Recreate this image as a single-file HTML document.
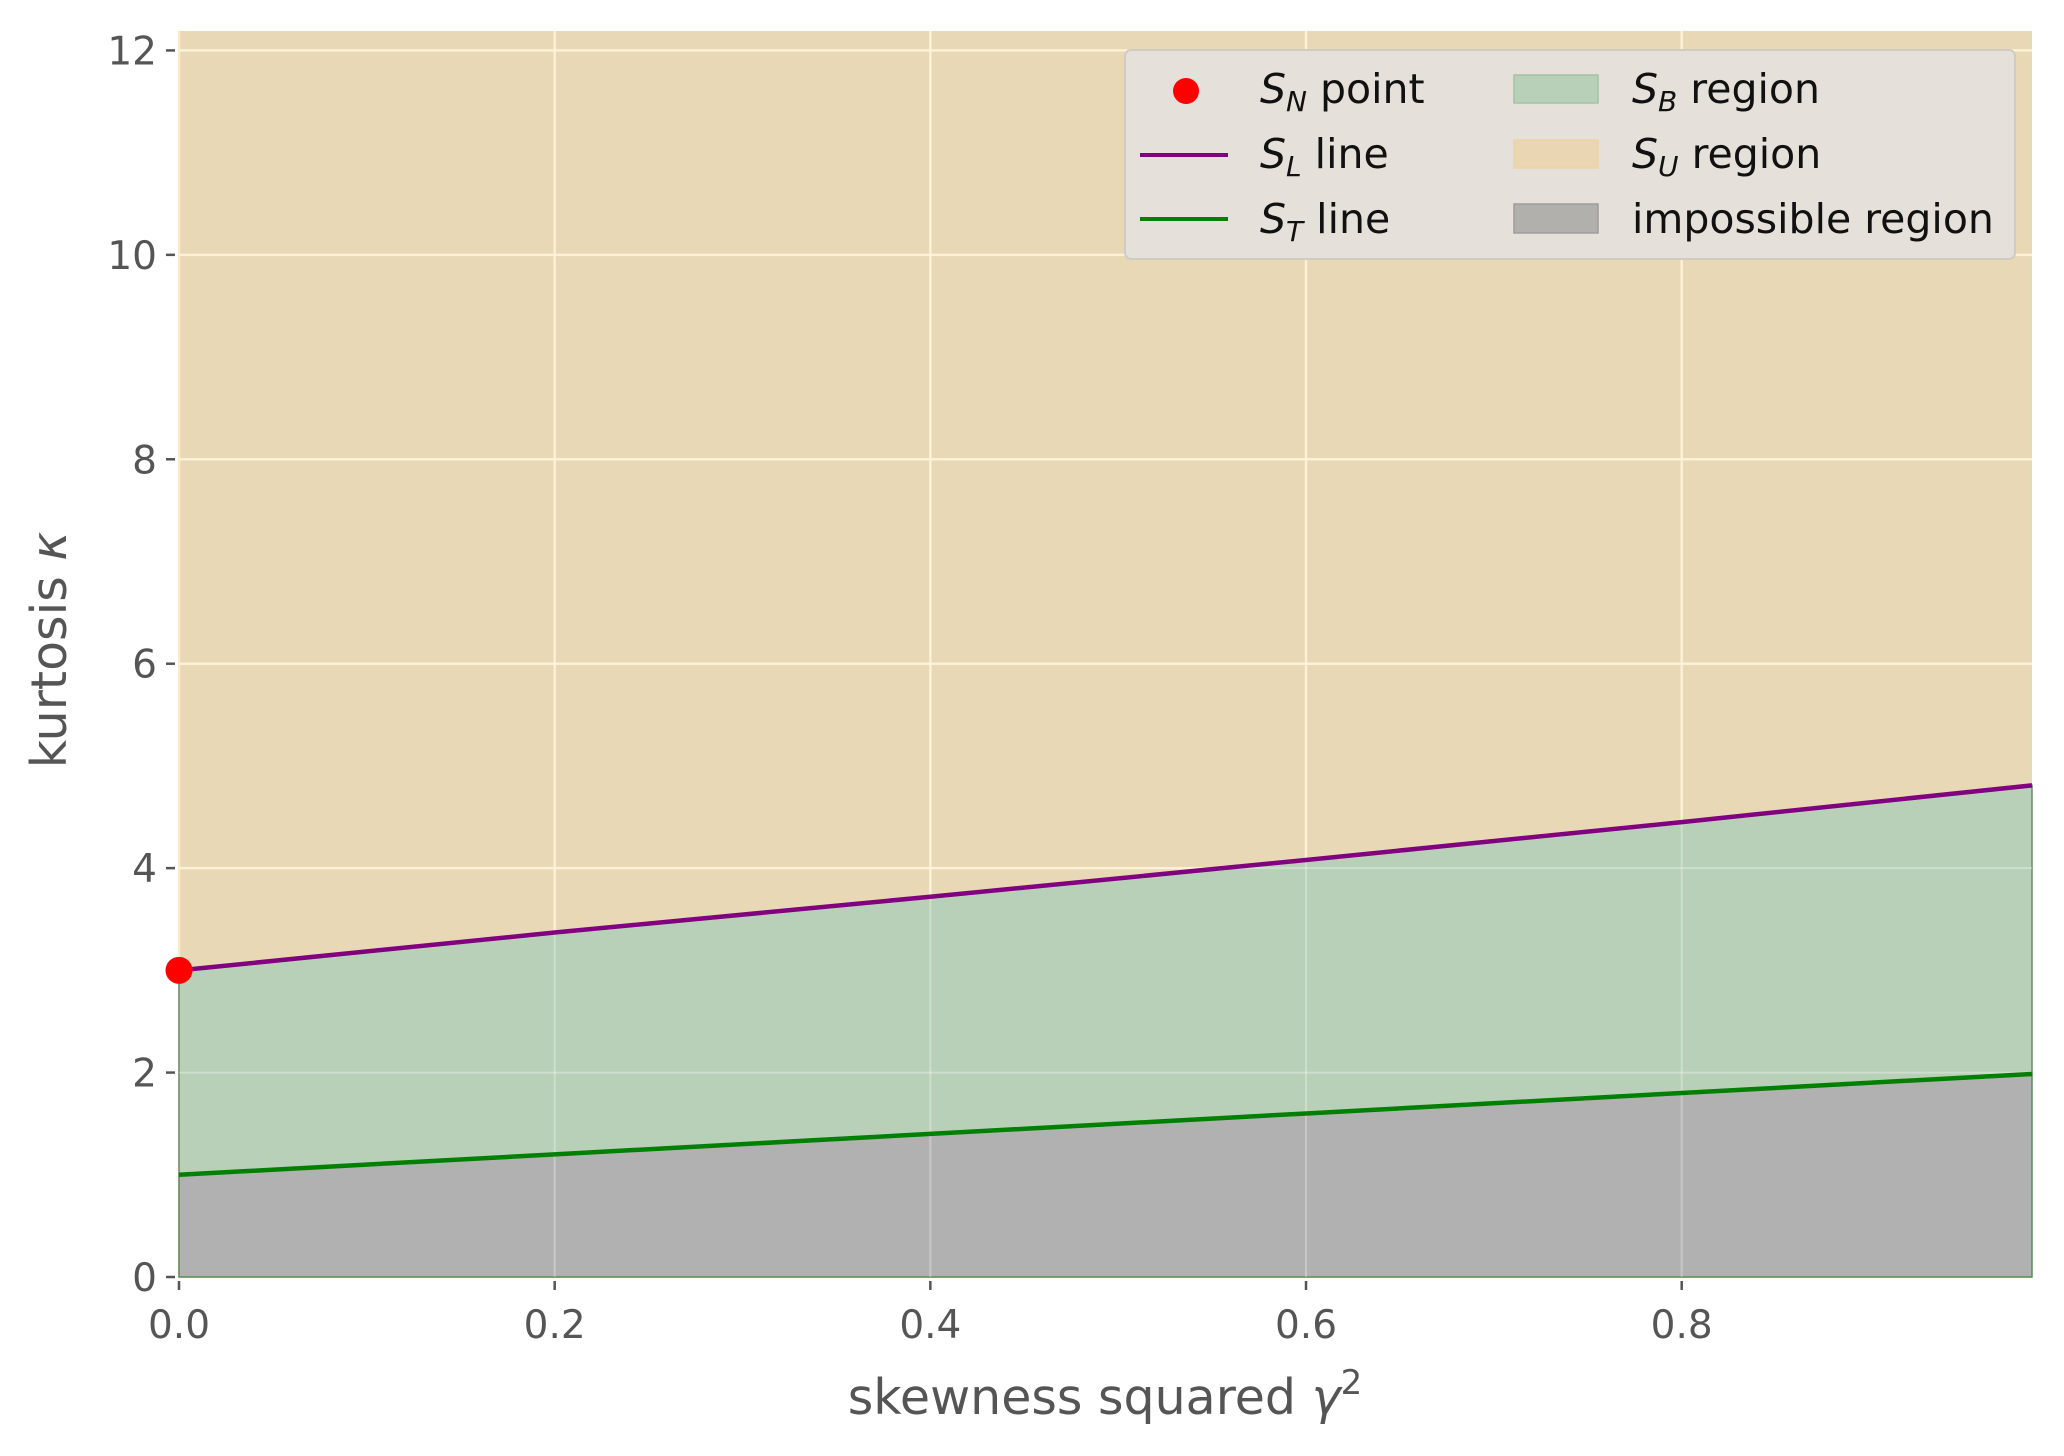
<!DOCTYPE html>
<html><head><meta charset="utf-8"><style>
html,body{margin:0;padding:0;background:#fff}
svg{display:block}
text{font-family:"DejaVu Sans","Liberation Sans",sans-serif}
</style></head><body>
<svg id="chart" width="2064" height="1456" viewBox="0 0 2064 1456" xmlns="http://www.w3.org/2000/svg">
<g id="plot"></g>
</svg>
<script>
const xTicks=[0.0,0.2,0.4,0.6,0.8];
const xTickLabels=["0.0","0.2","0.4","0.6","0.8"];
const yTicks=[0,2,4,6,8,10,12];
const yTickLabels=["0","2","4","6","8","10","12"];
const gammaSq=[0,0.2,0.4,0.6,0.8,0.9865];
const slKurt=[3.0,3.37,3.72,4.08,4.45,4.81];
const stKurt=[1.0,1.2,1.4,1.6,1.8,1.9865];
const snPoint=[0,3];

const L=179,R=2032,T=31,B=1277;
const xMin=0,xMax=0.9865,yMin=0,yMax=12.19;
const NS="http://www.w3.org/2000/svg";
const sx=v=>L+(v-xMin)/(xMax-xMin)*(R-L);
const sy=v=>B-(v-yMin)/(yMax-yMin)*(B-T);
const g=document.getElementById('plot');
function el(tag,attrs,parent){const e=document.createElementNS(NS,tag);for(const k in attrs)e.setAttribute(k,attrs[k]);(parent||g).appendChild(e);return e;}

let bg=el('rect',{x:L,y:T,width:R-L,height:B-T,fill:'#e9d8b6'});


xTicks.forEach(v=>{let l=el('line',{x1:sx(v),x2:sx(v),y1:T,y2:B,stroke:'#fbebc9','stroke-width':2.5});

});
yTicks.forEach(v=>{let l=el('line',{x1:L,x2:R,y1:sy(v),y2:sy(v),stroke:'#fbebc9','stroke-width':2.5});

});
let sbPts=gammaSq.map((x,i)=>sx(x)+','+sy(slKurt[i])).concat(gammaSq.slice().reverse().map((x,i)=>sx(x)+','+sy(stKurt[gammaSq.length-1-i])));
let sb=el('polygon',{points:sbPts.join(' '),fill:'#b8d0b8',stroke:'#6a8a6a','stroke-width':1.5});


let imPts=gammaSq.map((x,i)=>sx(x)+','+sy(stKurt[i])).concat([sx(gammaSq[gammaSq.length-1])+','+sy(0),sx(0)+','+sy(0)]);
let im=el('polygon',{points:imPts.join(' '),fill:'#b1b1b1',stroke:'#5a8a5a','stroke-width':1.5});


xTicks.forEach(v=>{if(v===0)return;let l=el('line',{x1:sx(v),x2:sx(v),y1:T,y2:B,stroke:'#ffffff','stroke-width':2,'stroke-opacity':0.3});

});
yTicks.forEach(v=>{if(v===0)return;let l=el('line',{x1:L,x2:R,y1:sy(v),y2:sy(v),stroke:'#ffffff','stroke-width':2,'stroke-opacity':0.3});

});
let sl=el('polyline',{points:gammaSq.map((x,i)=>sx(x)+','+sy(slKurt[i])).join(' '),fill:'none',stroke:'#800080','stroke-width':4.5});


let st=el('polyline',{points:gammaSq.map((x,i)=>sx(x)+','+sy(stKurt[i])).join(' '),fill:'none',stroke:'#008000','stroke-width':4.5});


let sn=el('circle',{cx:sx(snPoint[0]),cy:sy(snPoint[1]),r:13.5,fill:'#ff0000'});


xTicks.forEach((v,i)=>{let t=el('line',{x1:sx(v),x2:sx(v),y1:B+4,y2:B+13,stroke:'#555','stroke-width':2.5});


let tx=el('text',{x:sx(v),y:B+61,'text-anchor':'middle','font-size':39,fill:'#555'});tx.textContent=xTickLabels[i];

});
yTicks.forEach((v,i)=>{let t=el('line',{x1:L-13,x2:L-4,y1:sy(v),y2:sy(v),stroke:'#555','stroke-width':2.5});


let tx=el('text',{x:L-22,y:sy(v)+14,'text-anchor':'end','font-size':39,fill:'#555'});tx.textContent=yTickLabels[i];

});
</script>
<svg style="position:absolute;left:0;top:0" width="2064" height="1456" viewBox="0 0 2064 1456" xmlns="http://www.w3.org/2000/svg">
<text x="1105" y="1414" text-anchor="middle" font-size="49" fill="#555">skewness squared <tspan font-style="italic">γ</tspan><tspan font-size="34" dy="-20">2</tspan></text>
<text transform="translate(66,650) rotate(-90)" text-anchor="middle" font-size="49" fill="#555">kurtosis <tspan font-style="italic">κ</tspan></text>
<g transform="translate(-6,0)">
<rect x="1131" y="50" width="890" height="209" rx="6" fill="#e5e0da" stroke="#cfcbc6" stroke-width="2"/>
<circle cx="1192" cy="91" r="13" fill="#ff0000"/>
<text x="1266" y="103" font-size="41" fill="#111"><tspan font-style="italic">S</tspan><tspan font-style="italic" font-size="28" dy="8">N</tspan><tspan dy="-8"> point</tspan></text>
<line x1="1146" x2="1234" y1="155" y2="155" stroke="#800080" stroke-width="4"/>
<text x="1266" y="168" font-size="41" fill="#111"><tspan font-style="italic">S</tspan><tspan font-style="italic" font-size="28" dy="8">L</tspan><tspan dy="-8"> line</tspan></text>
<line x1="1146" x2="1234" y1="219" y2="219" stroke="#008000" stroke-width="4"/>
<text x="1266" y="233" font-size="41" fill="#111"><tspan font-style="italic">S</tspan><tspan font-style="italic" font-size="28" dy="8">T</tspan><tspan dy="-8"> line</tspan></text>
<rect x="1520" y="75" width="84" height="28" fill="#b8d0b8" stroke="#a2c2a2" stroke-width="1.5"/>
<text x="1638" y="103" font-size="41" fill="#111"><tspan font-style="italic">S</tspan><tspan font-style="italic" font-size="28" dy="8">B</tspan><tspan dy="-8"> region</tspan></text>
<rect x="1520" y="140" width="84" height="28" fill="#ead6b2" stroke="#ecd3a6" stroke-width="1.5"/>
<text x="1638" y="168" font-size="41" fill="#111"><tspan font-style="italic">S</tspan><tspan font-style="italic" font-size="28" dy="8">U</tspan><tspan dy="-8"> region</tspan></text>
<rect x="1520" y="204" width="84" height="29" fill="#b1b0ad" stroke="#9e9e9c" stroke-width="1.5"/>
<text x="1638" y="233" font-size="41" fill="#111">impossible region</text>
</g>
</svg>
</body></html>
